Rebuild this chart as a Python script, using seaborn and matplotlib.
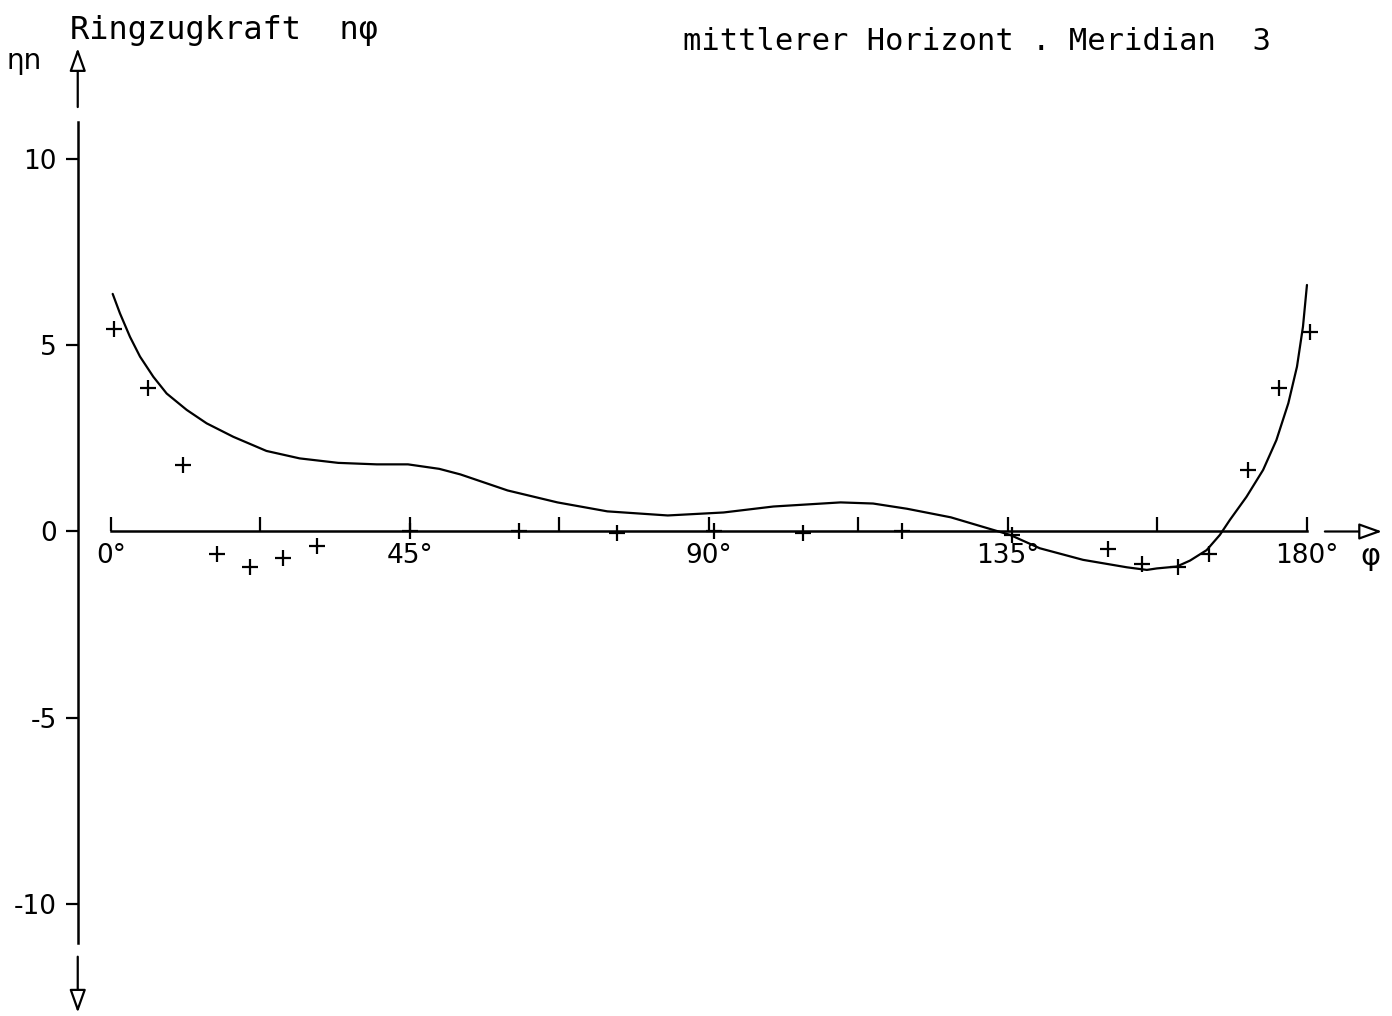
import matplotlib
matplotlib.use("Agg")
import matplotlib.pyplot as plt
import pandas as pd
import seaborn as sns

# measured values (phi in degrees, eta*n)
phi_pts = [0.5, 5.6, 10.8, 15.9, 20.9, 25.9, 31.0, 45.0, 61.4, 76.2, 90.7,
           104.1, 119.1, 135.6, 150.1, 155.1, 160.6, 165.2, 171.1, 175.8, 180.5]
eta_pts = [5.44, 3.86, 1.77, -0.59, -0.94, -0.72, -0.38, 0.0, 0.0, -0.05, 0.0,
           -0.05, 0.0, -0.1, -0.48, -0.87, -0.96, -0.6, 1.66, 3.86, 5.36]

# fitted curve
phi_curve = [0.26, 1.35, 2.86, 4.37, 6.37, 8.38, 11.4, 14.4, 18.4, 23.4, 28.4,
             34.2, 40.0, 44.7, 49.4, 52.6, 59.7, 67.2, 74.7, 83.8, 92.2, 99.7,
             109.8, 114.7, 119.8, 126.4, 135.3, 139.8, 146.3, 152.9, 155.9,
             157.4, 160.4, 162.4, 164.9, 166.9, 168.4, 170.9, 173.4, 175.4,
             177.2, 178.5, 179.4, 180.0]
eta_curve = [6.37, 5.85, 5.22, 4.69, 4.15, 3.70, 3.26, 2.90, 2.54, 2.16, 1.96,
             1.84, 1.80, 1.80, 1.68, 1.53, 1.10, 0.78, 0.54, 0.43, 0.51, 0.67,
             0.78, 0.75, 0.61, 0.38, -0.09, -0.45, -0.76, -0.96, -1.03,
             -0.99, -0.94, -0.78, -0.50, -0.09, 0.31, 0.93, 1.65, 2.45,
             3.44, 4.42, 5.49, 6.61]

x_ticks = [0, 22.5, 45, 67.5, 90, 112.5, 135, 157.5, 180]
x_labels = ["0°", "", "45°", "", "90°", "", "135°", "", "180°"]
y_ticks = [-10, -5, 0, 5, 10]
y_labels = ["-10", "-5", "0", "5", "10"]

sns.set_style("white")
plt.rcParams["font.family"] = ["DejaVu Sans"]
plt.rcParams["axes.unicode_minus"] = False
plt.rcParams["text.color"] = "black"

fig = plt.figure(figsize=(13.92, 10.16), dpi=100)
ax = fig.add_axes([0, 0, 1, 1])

pts = pd.DataFrame({"phi": phi_pts, "eta": eta_pts})
crv = pd.DataFrame({"phi": phi_curve, "eta": eta_curve})

# curve and measurement crosses
sns.lineplot(data=crv, x="phi", y="eta", color="black", lw=1.6, sort=False, ax=ax)
sns.scatterplot(data=pts, x="phi", y="eta", marker="+", s=140, color="black",
                linewidth=1.6, ax=ax)

ax.set_xlim(-16.7, 192.8)
ax.set_ylim(-12.99, 14.25)
ax.set_xlabel("")
ax.set_ylabel("")

# axes crossing at phi=-5 / eta=0
sns.despine(ax=ax)
ax.spines["left"].set_position(("data", -5))
ax.spines["left"].set_bounds(-11.03, 10.98)
ax.spines["bottom"].set_position(("data", 0))
ax.spines["bottom"].set_bounds(0, 180)
for s in ("left", "bottom"):
    ax.spines[s].set_linewidth(1.8)
    ax.spines[s].set_color("black")

ax.set_xticks(x_ticks)
ax.set_xticklabels(x_labels)
ax.set_yticks(y_ticks)
ax.set_yticklabels(y_labels)
ax.tick_params(axis="x", direction="in", length=10, width=1.6, pad=8,
               labelsize=19, colors="black", bottom=True)
ax.tick_params(axis="y", direction="out", length=9, width=1.6, pad=6,
               labelsize=19, colors="black", left=True)

# hollow arrow heads at the axis ends
arrow = dict(arrowstyle="-|>,head_length=0.7,head_width=0.25", fc="white",
             ec="black", lw=1.6, mutation_scale=20, shrinkA=0, shrinkB=0)
ax.annotate("", xy=(-5, 12.96), xytext=(-5, 11.38), arrowprops=arrow)
ax.annotate("", xy=(-5, -12.9), xytext=(-5, -11.4), arrowprops=arrow)
ax.annotate("", xy=(191.3, 0), xytext=(182.7, 0), arrowprops=arrow)

ax.text(189.5, -0.68, "φ", fontsize=22, ha="center", va="center")
ax.text(-13.0, 12.62, "ηn", fontsize=20, ha="center", va="center")

mono = "DejaVu Sans Mono"
fig.text(70 / 1392, 1 - 31 / 1016, "Ringzugkraft  nφ", fontsize=23,
         family=mono, ha="left", va="center", color="black")
fig.text(683 / 1392, 1 - 41 / 1016, "mittlerer Horizont . Meridian  3",
         fontsize=22, family=mono, ha="left", va="center", color="black")

fig.savefig("out.png", dpi=100, facecolor="white")
